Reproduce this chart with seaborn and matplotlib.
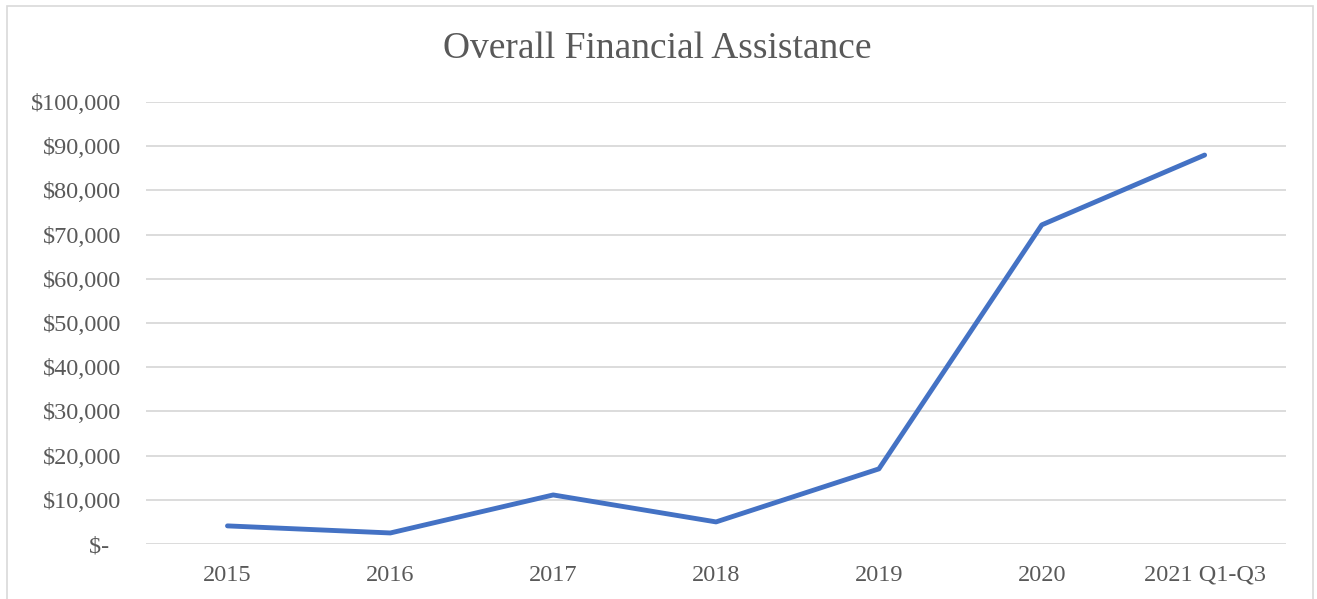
import matplotlib
matplotlib.use('Agg')
import matplotlib.pyplot as plt
import matplotlib.ticker as mticker
import seaborn as sns
import pandas as pd

periods = ['2015', '2016', '2017', '2018', '2019', '2020', '2021 Q1-Q3']
assistance = [4100, 2500, 11100, 5000, 17000, 72200, 88000]

sns.set_style('white')
plt.rcParams['font.family'] = ['Liberation Serif', 'DejaVu Serif']

df = pd.DataFrame({'period': periods, 'amount': assistance})

fig = plt.figure(figsize=(13.17, 5.99), dpi=100)
ax = fig.add_axes([0.1109, 0.0918, 0.8656, 0.7379])

sns.lineplot(data=df, x='period', y='amount', ax=ax, color='#4472C4',
             linewidth=3.5, solid_capstyle='round', sort=False)

ax.set_xlim(-0.5, len(periods) - 0.5)
ax.set_ylim(0, 100000)
ax.set_yticks(range(0, 100001, 10000))


def money(v, pos):
    if v == 0:
        return '$-  '
    return '${:,.0f}'.format(v)


ax.yaxis.set_major_formatter(mticker.FuncFormatter(money))
ax.grid(axis='y', color='#D9D9D9', linewidth=1.3)
ax.set_axisbelow(True)
for s in ax.spines.values():
    s.set_visible(False)
ax.tick_params(axis='both', length=0, labelsize=17.5, colors='#595959')
ax.tick_params(axis='y', pad=18)
ax.tick_params(axis='x', pad=15)
ax.set_xlabel('')
ax.set_ylabel('')

fig.text(0.4988, 0.918, 'Overall Financial Assistance', ha='center', va='center',
         fontsize=27, color='#595959')

# chart border
fig.patches.append(plt.Rectangle((0.005, -0.01), 0.992, 1.0, transform=fig.transFigure,
                                  fill=False, edgecolor='#D9D9D9', linewidth=1.2))

fig.savefig('out.png', dpi=100)
